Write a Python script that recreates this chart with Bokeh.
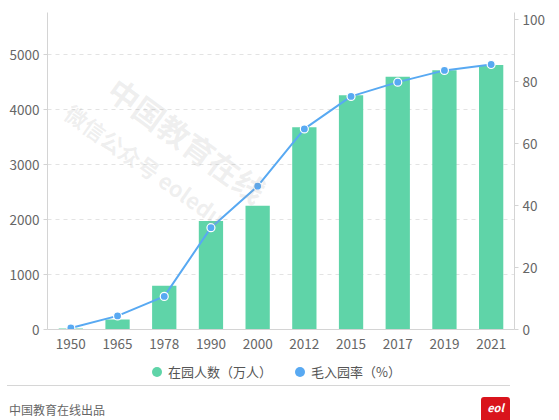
from bokeh.plotting import figure
from bokeh.models import (Range1d, LinearAxis, FixedTicker, Label, Div, ColumnDataSource)
from bokeh.layouts import column
from bokeh.embed import file_html
from bokeh.resources import INLINE

# ---- data ----
years = ["1950", "1965", "1978", "1990", "2000", "2012", "2015", "2017", "2019", "2021"]
enrolment = [20, 182, 795, 1975, 2252, 3682, 4265, 4600, 4718, 4815]   # 在园人数（万人）
rate = [0.5, 4.4, 10.7, 32.9, 46.3, 64.8, 75.3, 79.9, 83.7, 85.6]      # 毛入园率（%）
left_ticks = [0, 1000, 2000, 3000, 4000, 5000]
right_ticks = [0, 20, 40, 60, 80, 100]
legend_labels = ["在园人数（万人）", "毛入园率（%）"]
footer_text = "中国教育在线出品"
watermark_1 = "中国教育在线"
watermark_2 = "微信公众号 eoledu"

FONT = "Noto Sans CJK SC"
GREEN = "#5fd4a8"
BLUE = "#58a9f2"
AXIS = "#d4d4d4"

src = ColumnDataSource(data=dict(year=years, enrolment=enrolment, rate=rate))

p = figure(x_range=years, y_range=Range1d(0, 5770), width=551, height=356,
           output_backend="svg", toolbar_location=None,
           min_border_left=47, min_border_right=37, min_border_top=12,
           min_border_bottom=27)
p.outline_line_color = None
p.background_fill_color = "white"
p.border_fill_color = "white"
p.extra_y_ranges = {"rate": Range1d(0, 102.4)}

# left axis
la = p.yaxis[0]
la.ticker = FixedTicker(ticks=left_ticks)
la.axis_line_color = AXIS
la.major_tick_line_color = AXIS
la.major_tick_out = 4
la.major_tick_in = 0
la.minor_tick_line_color = None
la.major_label_standoff = 4
la.major_label_text_font = FONT
la.major_label_text_font_size = "13.5px"
la.major_label_text_color = "#666666"

# right axis
ra = LinearAxis(y_range_name="rate", ticker=FixedTicker(ticks=right_ticks))
ra.axis_line_color = AXIS
ra.major_tick_line_color = AXIS
ra.major_tick_out = 4
ra.major_tick_in = 0
ra.minor_tick_line_color = None
ra.major_label_standoff = 4
ra.major_label_text_font = FONT
ra.major_label_text_font_size = "13.5px"
ra.major_label_text_color = "#666666"
p.add_layout(ra, "right")

# x axis
xa = p.xaxis[0]
xa.axis_line_color = AXIS
xa.major_tick_line_color = None
xa.major_tick_out = 0
xa.major_label_standoff = 9
xa.major_label_text_font = FONT
xa.major_label_text_font_size = "13.5px"
xa.major_label_text_color = "#666666"

p.xgrid.grid_line_color = None
p.ygrid.ticker = FixedTicker(ticks=left_ticks)
p.ygrid.grid_line_color = "#e3e3e3"
p.ygrid.grid_line_dash = "4 4"

# bars and line
p.vbar(x="year", top="enrolment", width=0.52, source=src,
       fill_color=GREEN, line_color=None)
p.line(x="year", y="rate", source=src, y_range_name="rate",
       line_color=BLUE, line_width=2)
p.scatter(x="year", y="rate", source=src, y_range_name="rate", size=8,
          marker="circle", fill_color=BLUE, line_color="white", line_width=1.2)

# watermarks
p.add_layout(Label(x=140, y=190, x_units="screen", y_units="screen", text=watermark_1,
                   angle=-0.63, text_align="center", text_baseline="middle",
                   text_font=FONT, text_font_size="31px", text_font_style="bold",
                   text_color="#9a9a9a", text_alpha=0.16))
p.add_layout(Label(x=98, y=165, x_units="screen", y_units="screen", text=watermark_2,
                   angle=-0.62, text_align="center", text_baseline="middle",
                   text_font=FONT, text_font_size="22px", text_font_style="bold",
                   text_color="#9a9a9a", text_alpha=0.16))

# legend + footer (HTML)
legend_html = (
    f'<span style="position:absolute;left:152px;top:11px;width:10px;height:10px;border-radius:50%;background:{GREEN};"></span>'
    f'<span style="position:absolute;left:168px;top:7px;font-size:13px;line-height:18px;color:#555;white-space:nowrap;">{legend_labels[0]}</span>'
    f'<span style="position:absolute;left:295px;top:11px;width:10px;height:10px;border-radius:50%;background:{BLUE};"></span>'
    f'<span style="position:absolute;left:311px;top:7px;font-size:13px;line-height:18px;color:#555;white-space:nowrap;">{legend_labels[1]}</span>'
)
footer_html = (
    '<span style="position:absolute;left:7px;top:29px;width:503px;height:0;border-top:1px solid #d6d6d6;"></span>'
    f'<span style="position:absolute;left:9px;top:47px;font-size:12px;line-height:14px;color:#666;white-space:nowrap;">{footer_text}</span>'
    '<span style="position:absolute;left:481px;top:41px;width:29px;height:23px;background:#d9141c;'
    'border-radius:3px 3px 0 0;color:#fff;font-style:italic;font-weight:bold;font-size:11px;line-height:20px;'
    'text-align:center;">eol</span>'
)
footer = Div(text=(
    '<div style="position:relative;width:551px;height:64px;'
    'font-family:\'Noto Sans CJK SC\',sans-serif;overflow:hidden;">'
    + legend_html + footer_html + '</div>'),
    width=551, height=64, margin=(0, 0, 0, 0))

layout = column(p, footer, spacing=0)
open("out.html", "w").write(file_html(layout, INLINE))
